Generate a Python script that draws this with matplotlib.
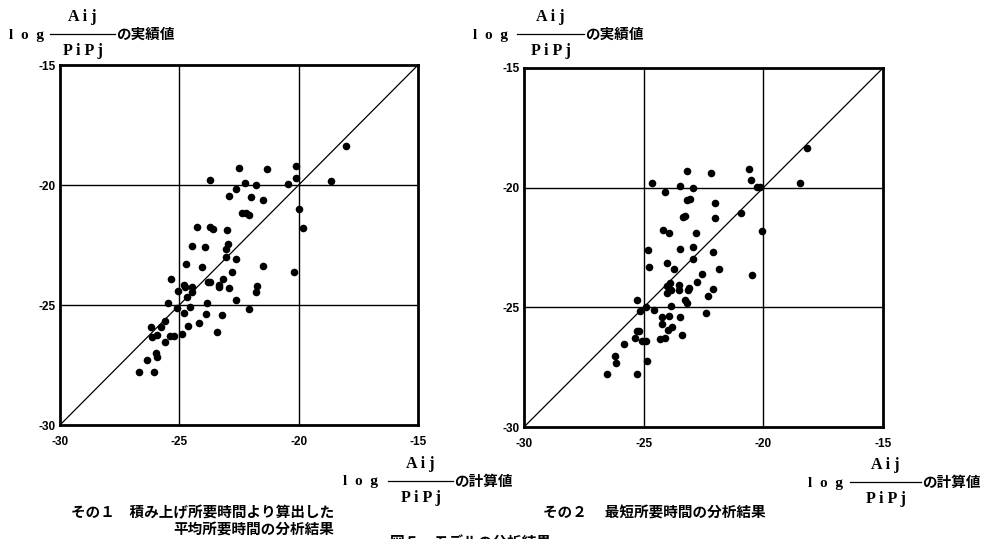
import matplotlib
matplotlib.use("Agg")
import matplotlib.pyplot as plt
from matplotlib.lines import Line2D

plt.rcParams['font.family'] = ['Noto Sans CJK JP', 'DejaVu Sans']

W, H = 988, 539

# その1 積み上げ所要時間より算出した平均所要時間
calc1 = [-26.67, -26.34, -26.08, -26.20, -26.13, -25.92, -25.97, -25.92, -25.78, -25.60,
         -25.62, -25.41, -25.22, -25.48, -25.36, -25.08, -25.06, -24.87, -24.80, -24.62,
         -24.69, -24.55, -24.80, -24.76, -24.48, -24.48, -24.73, -24.45, -24.24, -24.17,
         -24.03, -23.92, -23.89, -23.82, -23.78, -23.71, -23.73, -23.71, -23.61, -23.43,
         -23.34, -23.33, -23.22, -23.17, -23.06, -23.01, -22.98, -23.03, -22.92, -22.91,
         -22.81, -22.63, -22.63, -22.63, -22.52, -22.38, -22.25, -22.20, -22.07, -22.08,
         -22.01, -21.80, -21.78, -21.75, -21.51, -21.50, -21.33, -20.46, -20.13, -20.10,
         -20.21, -19.97, -19.82, -18.63, -18.03]
real1 = [-27.78, -27.29, -27.78, -25.93, -26.35, -26.25, -27.01, -27.15, -25.93, -25.67,
         -26.53, -26.29, -26.29, -24.93, -23.93, -25.14, -24.40, -26.22, -25.32, -25.88,
         -24.68, -25.10, -24.17, -24.24, -24.24, -24.44, -23.29, -22.53, -21.74, -25.76,
         -23.40, -22.60, -25.38, -24.90, -24.04, -24.04, -19.79, -21.74, -21.85, -26.11,
         -24.15, -24.26, -25.40, -23.92, -22.67, -21.88, -22.47, -22.99, -24.31, -20.44,
         -23.63, -23.10, -24.79, -20.15, -19.31, -21.18, -19.90, -21.18, -21.25, -25.18,
         -20.49, -20.00, -24.47, -24.21, -23.38, -20.63, -19.35, -19.97, -19.21, -19.69,
         -23.61, -21.00, -21.78, -19.83, -18.38]

# その2 最短所要時間
calc2 = [-26.52, -26.20, -26.16, -25.82, -25.38, -25.29, -25.29, -25.29, -25.18, -25.08,
         -24.90, -24.85, -25.15, -24.92, -24.80, -24.76, -24.65, -24.57, -24.32, -24.22,
         -24.22, -24.18, -24.09, -24.09, -24.04, -24.01, -24.04, -24.00, -23.94, -23.94,
         -23.90, -23.83, -23.84, -23.87, -23.73, -23.54, -23.51, -23.48, -23.48, -23.48,
         -23.41, -23.37, -23.26, -23.26, -23.18, -23.13, -23.09, -23.18, -23.06, -23.20,
         -22.95, -22.92, -22.92, -22.81, -22.79, -22.56, -22.41, -22.30, -22.17, -22.10,
         -22.09, -22.02, -22.01, -21.84, -20.92, -20.60, -20.53, -20.47, -20.28, -20.14,
         -20.07, -18.46, -18.18]
real2 = [-27.80, -27.04, -27.34, -26.55, -26.30, -27.80, -24.69, -25.98, -25.98, -26.39,
         -26.39, -27.23, -25.14, -24.97, -22.60, -23.33, -19.81, -25.11, -26.34, -25.42,
         -25.71, -21.76, -20.20, -26.30, -23.13, -24.11, -24.41, -25.95, -21.90, -25.36,
         -23.97, -25.81, -24.94, -24.27, -23.41, -24.27, -24.08, -25.42, -22.56, -19.92,
         -26.17, -21.21, -21.18, -24.69, -24.80, -24.27, -24.20, -20.51, -20.48, -19.32,
         -22.98, -20.02, -22.49, -21.90, -23.93, -23.62, -25.22, -24.51, -19.39, -22.67,
         -24.25, -20.65, -21.28, -23.41, -21.04, -19.23, -19.70, -23.65, -19.98, -19.99,
         -21.81, -19.79, -18.33]

ticks = [-30, -25, -20, -15]
grid_vals = [-25, -20]
captions = ["その１　積み上げ所要時間より算出した\n平均所要時間の分析結果",
            "その２ 　最短所要時間の分析結果"]
fig_title = "図５　モデルの分析結果"

LATIN = ['Liberation Serif', 'Noto Sans CJK JP']
TICKF = ['Liberation Sans', 'DejaVu Sans']


def px(x, y):
    return x / W, 1 - y / H


def log_label(fig, xlog, x0, x1, y, suffix):
    # l o g  (Aij / PiPj)  の…値
    fig.text(*px(xlog, y + 1), "l  o  g", family=LATIN, fontsize=11,
             fontweight='bold', va='center', ha='left')
    fig.add_artist(Line2D([x0 / W, x1 / W], [1 - y / H, 1 - y / H],
                          transform=fig.transFigure, color='black', lw=0.9))
    xc = (x0 + x1) / 2
    fig.text(*px(xc, y - 17), "A i j", family=LATIN, fontsize=11.5,
             fontweight='bold', ha='center', va='center')
    fig.text(*px(xc, y + 17), "P i P j", family=LATIN, fontsize=11.5,
             fontweight='bold', ha='center', va='center')
    fig.text(*px(x1 + 1, y), suffix, fontsize=10.5, fontweight='bold',
             va='center', ha='left')


def draw_panel(ax, xs, ys):
    ax.set_xlim(-30, -15)
    ax.set_ylim(-30, -15)
    for v in grid_vals:
        ax.axvline(v, color='black', lw=1.0, zorder=1)
        ax.axhline(v, color='black', lw=1.0, zorder=1)
    ax.plot([-30, -15], [-30, -15], color='black', lw=0.9, zorder=1)
    ax.scatter(xs, ys, s=30, color='black', zorder=3, linewidths=0)
    for s in ax.spines.values():
        s.set_linewidth(2.0)
    ax.set_xticks(ticks)
    ax.set_yticks(ticks)
    ax.set_xticklabels([str(t) for t in ticks], family=TICKF, fontsize=8.5,
                       fontweight='bold')
    ax.set_yticklabels([str(t) for t in ticks], family=TICKF, fontsize=8.5,
                       fontweight='bold')
    ax.tick_params(length=0)
    ax.tick_params(axis='x', pad=8)
    ax.tick_params(axis='y', pad=3)


fig = plt.figure(figsize=(W / 100, H / 100), dpi=100)
fig.patch.set_facecolor('white')

ax1 = fig.add_axes([60 / W, 1 - 425 / H, 358 / W, 360 / H])
ax2 = fig.add_axes([524 / W, 1 - 427 / H, 359 / W, 359 / H])
draw_panel(ax1, calc1, real1)
draw_panel(ax2, calc2, real2)

log_label(fig, 9, 50, 115, 34, "の実績値")
log_label(fig, 473, 517, 584, 34, "の実績値")
log_label(fig, 343, 388, 453, 481, "の計算値")
log_label(fig, 808, 850, 921, 482, "の計算値")

fig.text(*px(334, 521), captions[0], fontsize=10.5, fontweight='bold',
         va='center', ha='right', multialignment='right', linespacing=1.15)
fig.text(*px(543, 513), captions[1], fontsize=10.5, fontweight='bold',
         va='center', ha='left')
fig.text(*px(390, 535), fig_title, fontsize=10.5, fontweight='bold',
         va='top', ha='left')

fig.savefig("out.png", dpi=100, facecolor='white')
